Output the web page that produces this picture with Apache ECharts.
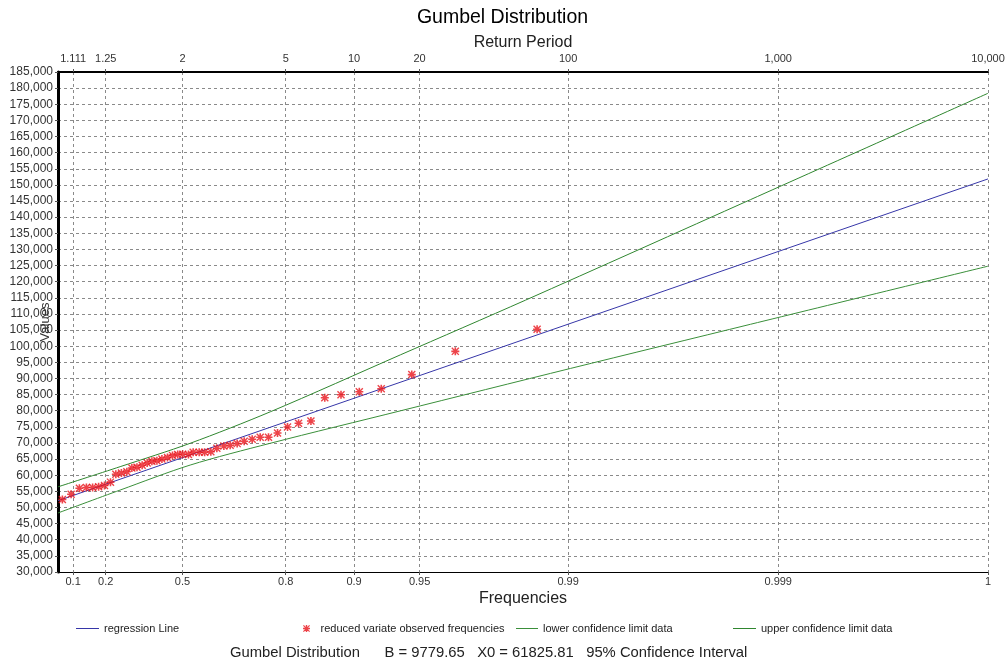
<!DOCTYPE html>
<html>
<head>
<meta charset="utf-8">
<script src="https://cdn.jsdelivr.net/npm/echarts@6/dist/echarts.min.js"></script>
<style>
  html, body { margin: 0; padding: 0; background: #fff; }
  #chart { width: 1005px; height: 662px; }
</style>
</head>
<body>
<div id="chart"></div>
<script>
// frequency ticks (bottom) and return periods (top), same positions
const freqTicks = [0.1, 0.2, 0.5, 0.8, 0.9, 0.95, 0.99, 0.999, 0.9999]
const freqLabels = ['0.1', '0.2', '0.5', '0.8', '0.9', '0.95', '0.99', '0.999', '1']
const returnLabels = ['1.111', '1.25', '2', '5', '10', '20', '100', '1,000', '10,000']

// observed points, x = reduced variate
const obsX = [-0.952, -0.856, -0.765, -0.688, -0.620, -0.554, -0.490, -0.424, -0.365, -0.304,
  -0.244, -0.189, -0.133, -0.076, -0.021, 0.031, 0.086, 0.141, 0.202, 0.257,
  0.314, 0.369, 0.432, 0.484, 0.550, 0.610, 0.678, 0.744, 0.821, 0.890,
  0.967, 1.044, 1.132, 1.220, 1.311, 1.410, 1.520, 1.641, 1.777, 1.929,
  2.107, 2.308, 2.549, 2.884, 3.362, 4.260]
const obsY = [52500, 54100, 55950, 56200, 56200, 56450, 56850, 57850, 60300, 60700,
  61100, 62250, 62450, 63100, 63800, 64350, 64500, 65000, 65500, 66150,
  66450, 66500, 66450, 67100, 67100, 67100, 67300, 68350, 69050, 69300,
  69800, 70550, 71150, 71750, 71750, 73100, 74950, 76100, 76800, 84000,
  84950, 85900, 86800, 91200, 98400, 105250]

const regX = [-1.0, 9.21]
const regY = [52100, 151850]

const upperX = [-1.0, -0.318, 0.451, 1.330, 2.758, 4.131, 6.604, 9.21]
const upperY = [56400, 62650, 69900, 79650, 97300, 114250, 145450, 178400]
const lowerX = [-1.0, -0.318, 0.451, 1.330, 2.758, 4.626, 6.604, 9.21]
const lowerY = [48300, 55400, 63150, 69900, 79950, 93100, 106800, 124800]

// gumbel reduced variate for the axis
const gumbel = f => -Math.log(-Math.log(f))
const tickPos = freqTicks.map(gumbel)
const xMin = -1
const xMax = tickPos[tickPos.length - 1]

const labelAt = (labels) => (v) => {
  for (var i = 0; i < tickPos.length; i++) {
    if (Math.abs(tickPos[i] - v) < 1e-6) return labels[i]
  }
  return ''
}
const pairs = (xs, ys) => xs.map((x, i) => [x, ys[i]])

const asterisk = 'path://M4,0h2v10h-2z M0,4h10v2h-10z M1.2,0L10,8.8L8.8,10L0,1.2z M8.8,0L10,1.2L1.2,10L0,8.8z'
const font = 'Liberation Sans'
const gridLine = { show: true, lineStyle: { color: '#8a8a8a', type: [3, 3], width: 1 } }
const legendText = { fontSize: 11, color: '#222' }

const chart = echarts.init(document.getElementById('chart'))
chart.setOption({
  animation: false,
  textStyle: { fontFamily: font },
  title: [
    { text: 'Gumbel Distribution', left: 'center', top: 8, padding: 0,
      textStyle: { fontFamily: font, fontSize: 19.5, fontWeight: 'normal', color: '#000' } },
    { text: 'Gumbel Distribution      B = 9779.65   X0 = 61825.81   95% Confidence Interval', left: 230, top: 645, padding: 0,
      textStyle: { fontFamily: font, fontSize: 14.8, fontWeight: 'normal', color: '#222' } }
  ],
  grid: { left: 58, right: 17, top: 72, bottom: 90, containLabel: false, outerBoundsMode: 'none' },
  legend: [
    { data: [{ name: 'regression Line', icon: 'rect' }], left: 76, top: 623, padding: 0,
      itemWidth: 23, itemHeight: 1, textStyle: legendText },
    { data: ['reduced variate observed frequencies'], left: 303, top: 623, padding: 0,
      itemWidth: 18, itemHeight: 7, textStyle: legendText },
    { data: [{ name: 'lower confidence limit data', icon: 'rect' }], left: 516, top: 623, padding: 0,
      itemWidth: 22, itemHeight: 1, textStyle: legendText },
    { data: [{ name: 'upper confidence limit data', icon: 'rect' }], left: 733, top: 623, padding: 0,
      itemWidth: 23, itemHeight: 1, textStyle: legendText }
  ],
  xAxis: [
    {
      type: 'value', position: 'bottom', min: xMin, max: xMax,
      name: 'Frequencies', nameLocation: 'middle', nameGap: 19, nameMoveOverlap: false,
      nameTextStyle: { fontSize: 16, color: '#222' },
      axisLine: { show: true, onZero: false, lineStyle: { color: '#000', width: 1 } },
      axisTick: { show: true, customValues: tickPos, length: 3, lineStyle: { color: '#555' } },
      axisLabel: { customValues: tickPos, formatter: labelAt(freqLabels), fontSize: 11, color: '#333', margin: 4 },
      splitLine: gridLine
    },
    {
      type: 'value', position: 'top', min: xMin, max: xMax,
      name: 'Return Period', nameLocation: 'middle', nameGap: 21, nameMoveOverlap: false,
      nameTextStyle: { fontSize: 16, color: '#222' },
      axisLine: { show: true, onZero: false, lineStyle: { color: '#000', width: 2 } },
      axisTick: { show: true, customValues: tickPos, length: 3, lineStyle: { color: '#555' } },
      axisLabel: { customValues: tickPos, formatter: labelAt(returnLabels), fontSize: 11, color: '#333', margin: 8 },
      splitLine: { show: false }
    }
  ],
  yAxis: {
    type: 'value', min: 30000, max: 185000, interval: 5000,
    name: 'Values', nameLocation: 'middle', nameGap: 6, nameRotate: 90, nameMoveOverlap: false,
    nameTextStyle: { fontSize: 13, color: '#333' },
    axisLine: { show: true, onZero: false, lineStyle: { color: '#000', width: 3 } },
    axisTick: { show: true, length: 3, lineStyle: { color: '#555' } },
    axisLabel: { fontSize: 12, color: '#333', margin: 5,
      formatter: v => v.toLocaleString('en-US') },
    splitLine: gridLine
  },
  series: [
    {
      name: 'regression Line', type: 'line', xAxisIndex: 0, data: pairs(regX, regY),
      symbol: 'none', lineStyle: { color: '#3636a8', width: 1 }, itemStyle: { color: '#3636a8' }
    },
    {
      name: 'reduced variate observed frequencies', type: 'scatter', xAxisIndex: 0,
      data: pairs(obsX, obsY), symbol: asterisk, symbolSize: 8,
      itemStyle: { color: '#e8141c' }, z: 5
    },
    {
      name: 'lower confidence limit data', type: 'line', xAxisIndex: 0, data: pairs(lowerX, lowerY),
      symbol: 'none', smooth: 0.3, lineStyle: { color: '#3a8f3a', width: 1 }, itemStyle: { color: '#3a8f3a' }
    },
    {
      name: 'upper confidence limit data', type: 'line', xAxisIndex: 0, data: pairs(upperX, upperY),
      symbol: 'none', smooth: 0.3, lineStyle: { color: '#2f862f', width: 1 }, itemStyle: { color: '#2f862f' }
    }
  ]
})
</script>
</body>
</html>
